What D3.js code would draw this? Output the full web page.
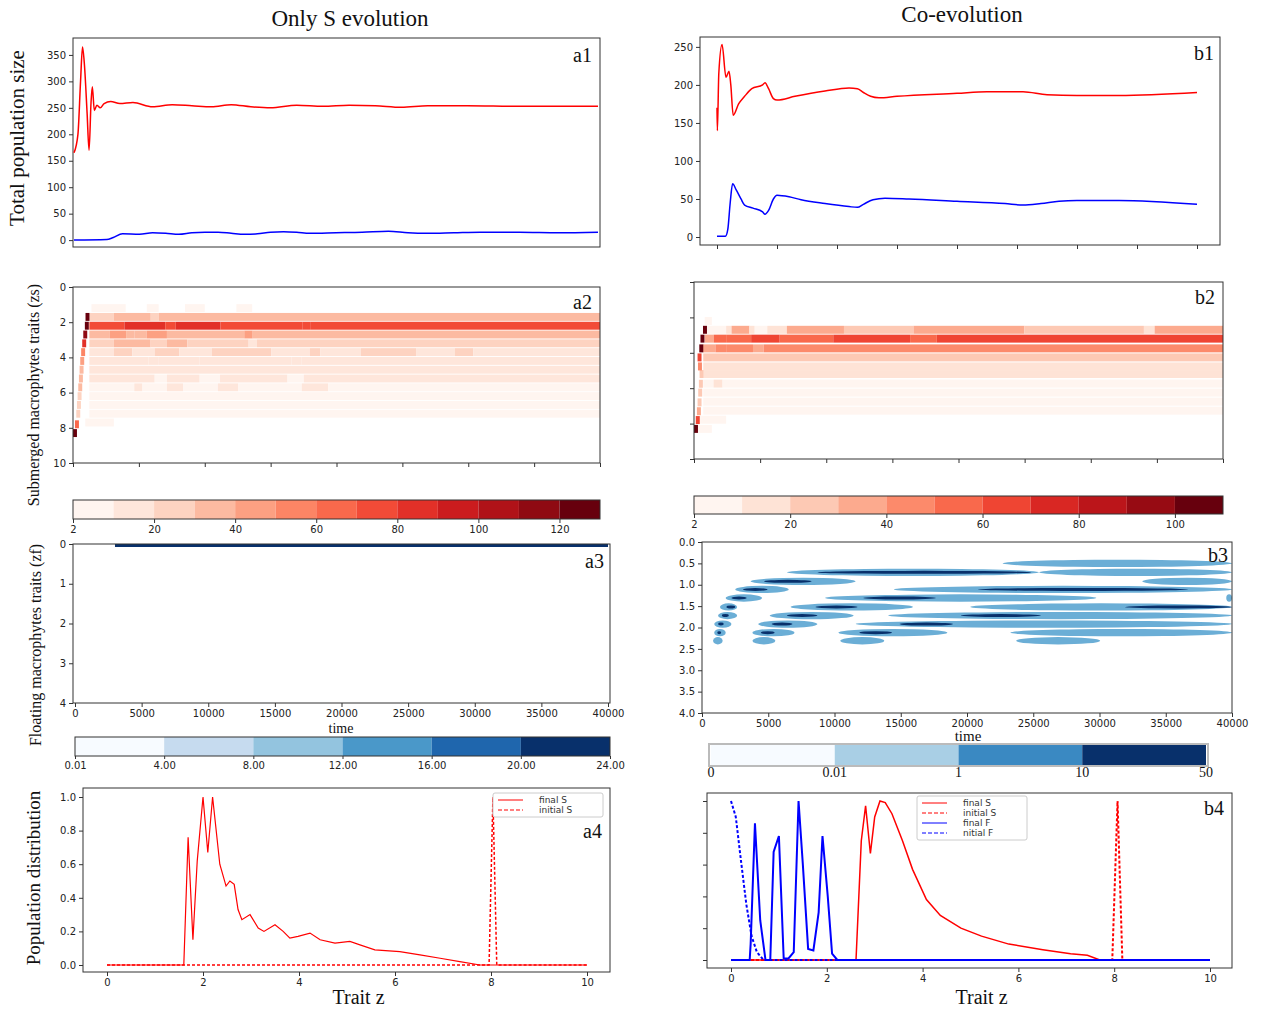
<!DOCTYPE html>
<html>
<head>
<meta charset="utf-8">
<script src="https://cdn.jsdelivr.net/npm/d3@7"></script>
<style>
  body { margin: 0; background: #fff; }
  .tick text { font-family: "DejaVu Sans", sans-serif; font-size: 10px; fill: #222; }
  .tick line { stroke: #333; }
  .serif { font-family: "Liberation Serif", serif; fill: #111; }
</style>
</head>
<body>
<svg id="fig" width="1267" height="1009"></svg>
<script>
// ---- data ----
// a1 / b1 : total population size, [time, value]
const a1S = [[0,165],[300,200],[500,300],[650,365],[800,330],[1000,240],[1150,170],[1300,260],[1400,290],[1550,245],[1750,255],[2000,250],[2300,258],[2800,262],[3500,258],[4500,260],[6000,252],[7500,256],[9000,254],[10500,252],[12000,256],[13500,252],[15000,250],[17000,255],[19000,253],[21000,255],[23000,254],[25000,251],[27000,254],[30000,254],[34000,253],[40000,253]];
const a1F = [[0,0],[2500,1],[3000,5],[3700,12],[5000,11],[6000,14],[7000,13],[8000,11],[9000,14],[10000,15],[11000,15],[12000,13],[13000,11],[14000,12],[15000,15],[16000,16],[17000,15],[18000,13],[20000,14],[22000,15],[24000,17],[25500,14],[27000,13],[29000,14],[31000,15],[34000,15],[37000,14],[40000,15]];
const b1S = [[0,170],[30,140],[150,215],[420,253],[750,210],[1000,218],[1150,200],[1350,160],[1800,175],[2300,185],[2900,195],[3800,200],[4000,203],[4300,195],[4700,182],[5000,180],[6500,185],[9000,192],[11000,196],[11700,195],[12200,190],[12800,185],[13500,183],[15000,185],[20000,189],[22500,191],[25500,191],[27500,187],[30000,186],[33500,186],[40000,190]];
const b1F = [[0,1],[700,1],[900,10],[1100,45],[1300,70],[1600,62],[2000,50],[2300,42],[3000,38],[3800,33],[4000,30],[4300,35],[4700,50],[5000,55],[6000,53],[7000,49],[9000,44],[11000,40],[11700,39],[12200,43],[13000,49],[14000,51],[16000,50],[20000,47],[24000,44],[25500,42],[27000,44],[28500,47],[30000,48],[33500,48],[40000,43]];

// a2 / b2 : submerged trait heatmaps. row z, segments [startTime, value]
const a2Z = [1.2,1.7,2.2,2.7,3.2,3.7,4.2,4.7,5.2,5.7,6.2,6.7,7.2,7.7];
const a2Rows = [
  [[1400,8],[4000,0],[5600,5],[6500,0],[8500,5],[10000,0],[12400,5],[13600,0]],
  [[1240,25],[3100,35],[5900,25],[6500,35]],
  [[1240,72],[3900,82],[7000,72],[7800,82],[11200,78],[17400,72],[18000,78]],
  [[1240,30],[2800,40],[4030,30],[4650,38],[5580,45],[7130,32],[13000,45],[13640,32]],
  [[1240,22],[3100,30],[5890,22],[7130,30],[8680,28],[13330,18],[13950,26]],
  [[1240,12],[3100,25],[4500,15],[6200,25],[8060,12],[10540,22],[15040,12],[17980,22],[18760,12],[21850,22],[26040,12],[28980,22],[30380,12]],
  [[1240,10],[5740,18],[6510,10],[9610,18],[10700,10],[16580,18],[17360,10]],
  [[1240,10]],
  [[1240,12],[6200,8],[7130,14],[9610,8],[11160,14],[16280,8],[17520,14]],
  [[1240,6],[4650,14],[5270,6],[7130,14],[8370,6],[11000,14],[12550,6],[17360,14],[19380,6]],
  [[1240,5]],[[1240,5]],[[1240,6]],
  [[930,6],[3100,0]]
];
const a2Early = [[0,8.3,130],[150,7.8,60],[250,7.2,25],[300,6.7,25],[350,6.2,25],[400,5.7,30],[450,5.2,30],[500,4.7,30],[550,4.2,40],[620,3.7,50],[700,3.2,80],[780,2.7,110],[900,2.2,130],[950,1.7,125]];
const b2Z = [2.2,2.7,3.2,3.75,4.26,4.77,5.2,5.74,6.25,6.76,7.27,7.78,8.3];
const b2Rows = [
  [[810,5],[1350,0]],
  [[950,5],[2430,15],[2840,35],[4190,15],[4590,8],[5540,15],[7020,30],[11340,20],[16600,32],[24980,20],[34020,15],[34830,32]],
  [[810,35],[1490,50],[2430,55],[4320,65],[6480,55],[10530,68],[16340,55],[18360,65]],
  [[675,30],[1620,40],[2430,45],[4460,30],[5270,45]],
  [[700,25]],[[700,15]],[[700,15]],
  [[700,5],[1480,15],[2160,5]],
  [[700,5]],[[700,5]],[[700,5]],
  [[135,8],[2430,0]],
  [[135,5],[1350,0]]
];
const b2Early = [[0,8.3,120],[135,7.8,60],[220,7.3,30],[270,6.8,20],[320,6.25,20],[370,5.75,20],[420,5.2,25],[300,4.77,40],[270,4.26,60],[400,3.75,110],[490,3.2,130],[680,2.7,120]];
const a2Bins = [2,10,20,30,40,50,60,70,80,90,100,110,120,130];
const b2Bins = [2,10,20,30,40,50,60,70,80,90,100,110];

// a3 : floating trait, one band [t0, t1, z]
const a3Band = [[3000,40000,0]];
const a3Labels = ["0.01","4.00","8.00","12.00","16.00","20.00","24.00"];
const a3Colors = ["#f7fbff","#c6dbef","#93c4df","#4a98c9","#1f66ad","#08306b"];

// b3 : floating trait blobs [t0, t1, z]
const b3Light = [
  [22697,40000,0.50],
  [6402,25437,0.71],[25437,40000,0.71],
  [3663,11594,0.92],[33224,40000,0.92],
  [2509,6547,1.11],[14478,40000,1.11],
  [1788,4528,1.31],[9286,29763,1.31],[39568,40000,1.31],
  [1355,2653,1.52],[6691,15920,1.52],[20246,40000,1.52],
  [1211,2653,1.72],[5105,11449,1.72],[14045,40000,1.72],
  [923,2221,1.92],[4240,8710,1.92],[11594,40000,1.92],
  [923,1788,2.12],[3807,6979,2.12],[10296,18515,2.12],[23274,40000,2.12],
  [836,1557,2.31],[3807,5537,2.31],[10440,13757,2.31],[23707,30052,2.31]
];
const b3Dark = [
  [8710,24860,0.71],
  [4672,8277,0.92],
  [3086,4960,1.11],[20823,36684,1.11],
  [2221,3374,1.31],[12171,17650,1.31],
  [1846,2509,1.52],[8565,11738,1.52],[31926,40000,1.52],
  [1500,2019,1.72],[6402,8710,1.72],[19525,25581,1.72],
  [1211,1644,1.92],[5249,6835,1.92],[14910,18948,1.92],
  [1154,1440,2.12],[4441,5480,2.12],[11882,14333,2.12]
];
const b3Labels = ["0","0.01","1","10","50"];
const b3Colors = ["#f7fbff","#a9cfe5","#3a89c2","#08306b"];

// a4 / b4 : trait distributions [z, value]
const a4FinalS = [[0,0],[1.6,0],[1.69,0.76],[1.79,0.15],[1.88,0.62],[2.0,1.0],[2.1,0.67],[2.2,1.0],[2.35,0.6],[2.48,0.47],[2.56,0.5],[2.65,0.48],[2.73,0.33],[2.81,0.27],[2.98,0.3],[3.15,0.22],[3.27,0.2],[3.5,0.24],[3.67,0.2],[3.81,0.16],[3.98,0.17],[4.23,0.19],[4.44,0.15],[4.75,0.13],[5.06,0.14],[5.27,0.12],[5.58,0.09],[6.1,0.08],[6.52,0.06],[6.94,0.04],[7.35,0.02],[7.77,0],[10,0]];
const a4InitS = [[0,0],[7.96,0],[8.04,1.0],[8.12,0],[10,0]];
const b4FinalS = [[0,0],[2.61,0],[2.72,0.75],[2.81,0.97],[2.91,0.67],[3.0,0.9],[3.11,1.0],[3.22,0.99],[3.36,0.92],[3.58,0.75],[3.79,0.57],[4.08,0.38],[4.37,0.28],[4.8,0.2],[5.23,0.15],[5.8,0.1],[6.51,0.065],[7.09,0.04],[7.44,0.03],[7.7,0],[10,0]];
const b4InitS = [[0,0],[7.96,0],[8.07,1.0],[8.17,0],[10,0]];
const b4FinalF = [[0,0],[0.39,0],[0.41,0.1],[0.5,0.86],[0.61,0.25],[0.72,0],[0.82,0],[0.89,0.68],[1.0,0.78],[1.1,0.01],[1.2,0.01],[1.31,0.05],[1.41,1.0],[1.5,0.6],[1.61,0.07],[1.72,0.06],[1.83,0.3],[1.91,0.78],[2.02,0.4],[2.11,0.04],[2.22,0],[10,0]];
const b4InitF = [[0,1.0],[0.1,0.9],[0.21,0.62],[0.32,0.35],[0.43,0.15],[0.54,0.05],[0.68,0],[10,0]];

const timeTicks = d3.range(0, 40001, 5000);

// ---- drawing ----
const svg = d3.select("#fig");

function frame(g, x0, y0, x1, y1) {
  g.append("rect").attr("x", x0).attr("y", y0).attr("width", x1 - x0).attr("height", y1 - y0)
    .attr("fill", "none").attr("stroke", "#333").attr("stroke-width", 1);
}
function label(text, x, y, size, rot, anchor) {
  const t = svg.append("text").attr("class", "serif").attr("font-size", size)
    .attr("text-anchor", anchor || "middle").text(text);
  if (rot) t.attr("transform", `translate(${x},${y}) rotate(-90)`);
  else t.attr("x", x).attr("y", y);
  return t;
}
function axis(gen, tx, ty) {
  const g = svg.append("g").attr("transform", `translate(${tx},${ty})`).call(gen);
  g.select(".domain").remove();
  return g;
}
function clip(id, x0, y0, x1, y1) {
  svg.append("clipPath").attr("id", id).append("rect")
    .attr("x", x0).attr("y", y0).attr("width", x1 - x0).attr("height", y1 - y0);
  return `url(#${id})`;
}

label("Only S evolution", 350, 26, 23);
label("Co-evolution", 962, 22, 23);

// a1
{
  const x = d3.scaleLinear().domain([0, 40000]).range([74, 598]);
  const y = d3.scaleLinear().domain([-13, 382]).range([247, 38]);
  frame(svg, 73, 38, 600, 247);
  axis(d3.axisLeft(y).tickValues(d3.range(0, 351, 50)).tickSize(4), 73, 0);
  const line = d3.line().x(d => x(d[0])).y(d => y(d[1])).curve(d3.curveMonotoneX);
  svg.append("path").datum(a1S).attr("d", line).attr("fill", "none").attr("stroke", "#ff0000").attr("stroke-width", 1.5);
  svg.append("path").datum(a1F).attr("d", line).attr("fill", "none").attr("stroke", "#0000ff").attr("stroke-width", 1.5);
  label("a1", 592, 62, 20, false, "end");
  label("Total population size", 24, 138, 21, true);
}
// b1
{
  const x = d3.scaleLinear().domain([0, 40000]).range([717, 1197]);
  const y = d3.scaleLinear().domain([-10.5, 263]).range([245, 37]);
  frame(svg, 700, 37, 1220, 245);
  axis(d3.axisLeft(y).tickValues(d3.range(0, 251, 50)).tickSize(4), 700, 0);
  axis(d3.axisBottom(x).tickValues(timeTicks).tickSize(4).tickFormat(""), 0, 245);
  const line = d3.line().x(d => x(d[0])).y(d => y(d[1])).curve(d3.curveMonotoneX);
  svg.append("path").datum(b1S).attr("d", line).attr("fill", "none").attr("stroke", "#ff0000").attr("stroke-width", 1.5);
  svg.append("path").datum(b1F).attr("d", line).attr("fill", "none").attr("stroke", "#0000ff").attr("stroke-width", 1.5);
  label("b1", 1214, 60, 20, false, "end");
}

// heatmaps a2 / b2
function heat(opts) {
  const { x0, x1, y0, y1, zs, rows, early, bins, cb, showY, name } = opts;
  const x = d3.scaleLinear().domain([0, 40000]).range([x0, x1]);
  const y = d3.scaleLinear().domain([0, 10]).range([y0, y1]);
  const colors = d3.range(bins.length - 1).map(i => d3.interpolateReds(i / (bins.length - 2)));
  const color = d3.scaleThreshold().domain(bins.slice(1, -1)).range(colors);
  const g = svg.append("g").attr("clip-path", clip("c" + name, x0, y0, x1, y1));
  const h = 0.45;
  rows.forEach((segs, i) => {
    segs.forEach((s, j) => {
      if (s[1] < 2) return;
      const end = j + 1 < segs.length ? segs[j + 1][0] : 40000;
      g.append("rect").attr("x", x(s[0])).attr("width", x(end) - x(s[0]))
        .attr("y", y(zs[i] - h / 2)).attr("height", y(h) - y(0))
        .attr("fill", color(s[1]));
    });
  });
  early.forEach(d => {
    g.append("rect").attr("x", x(d[0])).attr("width", x(300) - x(0))
      .attr("y", y(d[1] - h / 2)).attr("height", y(h) - y(0)).attr("fill", color(d[2]));
  });
  frame(svg, x0, y0, x1, y1);
  const ya = d3.axisLeft(y).tickValues(d3.range(0, 11, 2)).tickSize(4);
  if (!showY) ya.tickFormat("");
  axis(ya, x0, 0);
  axis(d3.axisBottom(x).tickValues(timeTicks).tickSize(4).tickFormat(""), 0, y1);
  // colorbar
  const band = d3.scaleLinear().domain([0, colors.length]).range([x0, x1]);
  colors.forEach((c, i) => {
    svg.append("rect").attr("x", band(i)).attr("width", band(1) - band(0))
      .attr("y", cb[0]).attr("height", cb[1] - cb[0]).attr("fill", c);
  });
  frame(svg, x0, cb[0], x1, cb[1]);
  const tickIdx = d3.range(0, bins.length).filter(i => i === 0 || (bins[i] % 20 === 0));
  axis(d3.axisBottom(band).tickValues(tickIdx).tickSize(4).tickFormat(i => bins[i]), 0, cb[1]);
  label(name, x1 - 8, y0 + 22, 20, false, "end");
}
heat({ x0: 73, x1: 600, y0: 287, y1: 463, zs: a2Z, rows: a2Rows, early: a2Early, bins: a2Bins, cb: [500, 519], showY: true, name: "a2" });
heat({ x0: 694, x1: 1223, y0: 282, y1: 459, zs: b2Z, rows: b2Rows, early: b2Early, bins: b2Bins, cb: [496, 514], showY: false, name: "b2" });
label("Submerged macrophytes traits (zs)", 39, 395, 16, true);

// a3
{
  const x = d3.scaleLinear().domain([0, 40000]).range([75, 608]);
  const y = d3.scaleLinear().domain([0, 4]).range([544, 703]);
  a3Band.forEach(d => {
    svg.append("rect").attr("x", x(d[0])).attr("width", x(d[1]) - x(d[0]))
      .attr("y", y(d[2])).attr("height", 3).attr("fill", a3Colors[5]);
  });
  frame(svg, 73, 544, 610, 703);
  axis(d3.axisLeft(y).tickValues([0, 1, 2, 3, 4]).tickSize(4).tickFormat(d3.format("d")), 73, 0).selectAll("text").attr("font-size", 12);
  axis(d3.axisBottom(x).tickValues(timeTicks).tickSize(4).tickFormat(d3.format("d")), 0, 703).selectAll("text").attr("font-size", 12);
  label("time", 341, 733, 14);
  label("a3", 604, 568, 20, false, "end");
  const band = d3.scaleLinear().domain([0, a3Colors.length]).range([75, 610]);
  a3Colors.forEach((c, i) => {
    svg.append("rect").attr("x", band(i)).attr("width", band(1) - band(0))
      .attr("y", 737).attr("height", 19).attr("fill", c);
  });
  frame(svg, 75, 737, 610, 756);
  axis(d3.axisBottom(band).tickValues(d3.range(0, 7)).tickSize(3).tickFormat(i => a3Labels[i]), 0, 756)
    .selectAll("text").attr("font-size", 12);
  label("Floating macrophytes traits (zf)", 41, 645, 16, true);
}

// b3
{
  const x = d3.scaleLinear().domain([0, 40000]).range([702, 1232]);
  const y = d3.scaleLinear().domain([0, 4]).range([542, 713]);
  const g = svg.append("g").attr("clip-path", clip("cb3", 702, 542, 1232, 713));
  g.selectAll(".lt").data(b3Light).join("ellipse")
    .attr("cx", d => x((d[0] + d[1]) / 2)).attr("rx", d => (x(d[1]) - x(d[0])) / 2)
    .attr("cy", d => y(d[2])).attr("ry", y(0.085) - y(0)).attr("fill", "#6baed6");
  g.selectAll(".dk").data(b3Dark).join("ellipse")
    .attr("cx", d => x((d[0] + d[1]) / 2)).attr("rx", d => (x(d[1]) - x(d[0])) / 2)
    .attr("cy", d => y(d[2])).attr("ry", y(0.035) - y(0)).attr("fill", "#08306b");
  frame(svg, 702, 542, 1232, 713);
  axis(d3.axisLeft(y).tickValues(d3.range(0, 4.01, 0.5)).tickSize(4).tickFormat(d3.format(".1f")), 702, 0);
  axis(d3.axisBottom(x).tickValues(timeTicks).tickSize(4).tickFormat(d3.format("d")), 0, 713);
  label("time", 968, 741, 15);
  label("b3", 1228, 562, 20, false, "end");
  const band = d3.scaleLinear().domain([0, b3Colors.length]).range([711, 1206]);
  b3Colors.forEach((c, i) => {
    svg.append("rect").attr("x", band(i)).attr("width", band(1) - band(0))
      .attr("y", 745).attr("height", 20).attr("fill", c);
  });
  svg.append("rect").attr("x", 709).attr("y", 744).attr("width", 499).attr("height", 22)
    .attr("fill", "none").attr("stroke", "#bbb").attr("stroke-width", 2);
  b3Labels.forEach((t, i) => label(t, band(i), 777, 14));
}

// distributions a4 / b4
function dist(opts) {
  const { x0, x1, y0, y1, xr, yr, series, legend, lg, showY, name, nameY } = opts;
  const x = d3.scaleLinear().domain([0, 10]).range(xr);
  const y = d3.scaleLinear().domain([0, 1]).range(yr);
  const line = d3.line().x(d => x(d[0])).y(d => y(d[1]));
  series.forEach(s => {
    svg.append("path").datum(s.data).attr("d", line).attr("fill", "none")
      .attr("stroke", s.color).attr("stroke-width", s.w)
      .attr("stroke-dasharray", s.dash ? "3,2" : null);
  });
  frame(svg, x0, y0, x1, y1);
  const ya = d3.axisLeft(y).tickValues(d3.range(0, 1.01, 0.2)).tickSize(4).tickFormat(d3.format(".1f"));
  if (!showY) ya.tickFormat("");
  axis(ya, x0, 0).selectAll("text").attr("font-size", 8);
  axis(d3.axisBottom(x).tickValues(d3.range(0, 11, 2)).tickSize(4), 0, y1).selectAll("text").attr("font-size", 8);
  const lgH = 10 * legend.length + 4;
  svg.append("rect").attr("x", lg[0]).attr("y", lg[1]).attr("width", 110).attr("height", lgH)
    .attr("fill", "#fff").attr("stroke", "#ccc").attr("rx", 2);
  legend.forEach((s, i) => {
    const yy = lg[1] + 7 + i * 10;
    svg.append("line").attr("x1", lg[0] + 5).attr("x2", lg[0] + 30).attr("y1", yy).attr("y2", yy)
      .attr("stroke", s.color).attr("stroke-width", 1).attr("stroke-dasharray", s.dash ? "4,2" : null);
    svg.append("text").attr("x", lg[0] + 46).attr("y", yy + 3).attr("font-size", 9)
      .attr("font-family", "DejaVu Sans").attr("fill", "#333").text(s.name);
  });
  label(name, x1 - 8, nameY, 20, false, "end");
  label("Trait z", (x0 + x1) / 2 + 12, 1004, 20);
}
dist({ x0: 83, x1: 610, y0: 788, y1: 972, xr: [107, 587], yr: [965, 797], showY: true, name: "a4", nameY: 838, lg: [493, 793],
  series: [{ data: a4InitS, color: "#ff0000", w: 1.5, dash: true }, { data: a4FinalS, color: "#ff0000", w: 1.2 }],
  legend: [{ name: "final S", color: "#ff0000" }, { name: "initial S", color: "#ff0000", dash: true }] });
dist({ x0: 707, x1: 1232, y0: 793, y1: 968, xr: [731, 1210], yr: [960, 801], showY: false, name: "b4", nameY: 815, lg: [917, 796],
  series: [{ data: b4InitS, color: "#ff0000", w: 2, dash: true }, { data: b4FinalS, color: "#ff0000", w: 1.5 },
           { data: b4InitF, color: "#0000ff", w: 2, dash: true }, { data: b4FinalF, color: "#0000ff", w: 2 }],
  legend: [{ name: "final S", color: "#ff0000" }, { name: "initial S", color: "#ff0000", dash: true },
           { name: "final F", color: "#0000ff" }, { name: "nitial F", color: "#0000ff", dash: true }] });
label("Population distribution", 40, 878, 19, true);
</script>
</body>
</html>
